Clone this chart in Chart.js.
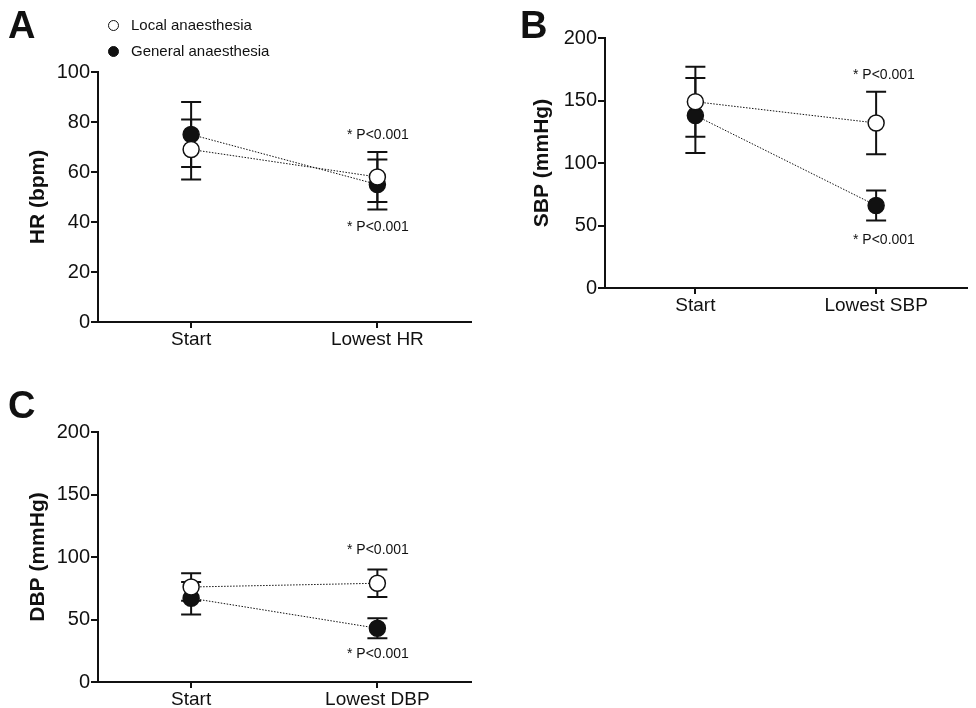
<!DOCTYPE html>
<html>
<head>
<meta charset="utf-8">
<script src="https://cdn.jsdelivr.net/npm/chart.js@4"></script>
<style>
  body { margin: 0; background: #fff; font-family: "Liberation Sans", Arial, sans-serif; }
  #wrap { position: relative; width: 976px; height: 708px; overflow: hidden; }
  canvas { position: absolute; }
  .t { position: absolute; color: #111; white-space: nowrap; }
  .letter { font-weight: bold; font-size: 38px; }
  .p { font-size: 14px; }
  .leg { font-size: 15px; }
  .dot { position: absolute; width: 11px; height: 11px; border-radius: 50%; border: 1.5px solid #111; box-sizing: border-box; }
</style>
</head>
<body>
<div id="wrap">
  <canvas id="cA" style="left:0;top:0"></canvas>
  <canvas id="cB" style="left:500px;top:0"></canvas>
  <canvas id="cC" style="left:0;top:380px"></canvas>

  <div class="t letter" style="left:8px;top:4px">A</div>
  <div class="t letter" style="left:520px;top:4px">B</div>
  <div class="t letter" style="left:8px;top:384px">C</div>

  <div class="dot" style="left:108px;top:20px;background:#fff"></div>
  <div class="t leg" style="left:131px;top:16px">Local anaesthesia</div>
  <div class="dot" style="left:108px;top:46px;background:#111"></div>
  <div class="t leg" style="left:131px;top:42px">General anaesthesia</div>

  <div class="t p" style="left:347px;top:126px">* P&lt;0.001</div>
  <div class="t p" style="left:347px;top:218px">* P&lt;0.001</div>
  <div class="t p" style="left:853px;top:66px">* P&lt;0.001</div>
  <div class="t p" style="left:853px;top:231px">* P&lt;0.001</div>
  <div class="t p" style="left:347px;top:541px">* P&lt;0.001</div>
  <div class="t p" style="left:347px;top:645px">* P&lt;0.001</div>
</div>
<script>
// values (mean, lower and upper error bar ends)
const hrLabels = ["Start", "Lowest HR"];
const hrLocal = [69, 58];
const hrLocalLo = [57, 48];
const hrLocalHi = [81, 68];
const hrGeneral = [75, 55];
const hrGeneralLo = [62, 45];
const hrGeneralHi = [88, 65];

const sbpLabels = ["Start", "Lowest SBP"];
const sbpLocal = [149, 132];
const sbpLocalLo = [121, 107];
const sbpLocalHi = [177, 157];
const sbpGeneral = [138, 66];
const sbpGeneralLo = [108, 54];
const sbpGeneralHi = [168, 78];

const dbpLabels = ["Start", "Lowest DBP"];
const dbpLocal = [76, 79];
const dbpLocalLo = [65, 68];
const dbpLocalHi = [87, 90];
const dbpGeneral = [67, 43];
const dbpGeneralLo = [54, 35];
const dbpGeneralHi = [80, 51];

const ink = "#111";
const tickFont = { family: "Liberation Sans, Arial", size: 19 };

const errorBars = {
  id: "errorBars",
  beforeDatasetsDraw(chart) {
    const c = chart.ctx;
    const y = chart.scales.y;
    c.save();
    c.strokeStyle = ink;
    c.lineWidth = 2;
    chart.data.datasets.forEach((ds, i) => {
      const meta = chart.getDatasetMeta(i);
      meta.data.forEach((pt, j) => {
        const top = y.getPixelForValue(ds.hi[j]);
        const bot = y.getPixelForValue(ds.lo[j]);
        c.beginPath();
        c.moveTo(pt.x, top); c.lineTo(pt.x, bot);
        c.moveTo(pt.x - 10, top); c.lineTo(pt.x + 10, top);
        c.moveTo(pt.x - 10, bot); c.lineTo(pt.x + 10, bot);
        c.stroke();
      });
    });
    c.restore();
  }
};

function series(data, lo, hi, fill) {
  return {
    data, lo, hi,
    borderColor: ink, borderWidth: 1, borderDash: [1.5, 1.5],
    pointRadius: 8, pointHoverRadius: 8, pointBorderWidth: 1.5,
    pointBackgroundColor: fill, pointBorderColor: ink
  };
}

function makeChart(id, w, h, labels, sets, yMax, yStep, title, pad, yW, xH) {
  const cv = document.getElementById(id);
  cv.width = w; cv.height = h;
  cv.style.width = w + "px"; cv.style.height = h + "px";
  new Chart(cv, {
    type: "line",
    data: { labels, datasets: sets },
    plugins: [errorBars],
    options: {
      responsive: false, animation: false,
      layout: { padding: pad },
      plugins: { legend: { display: false }, tooltip: { enabled: false } },
      scales: {
        x: {
          offset: true,
          grid: { display: true, drawOnChartArea: false, tickLength: 6, color: ink, lineWidth: 2, offset: false },
          border: { color: ink, width: 2 },
          ticks: { color: ink, font: tickFont, padding: 0 },
          afterFit(s) { s.height = xH; }
        },
        y: {
          min: 0, max: yMax,
          grid: { display: true, drawOnChartArea: false, tickLength: 7, color: ink, lineWidth: 2 },
          border: { color: ink, width: 2 },
          ticks: { stepSize: yStep, color: ink, font: { family: "Liberation Sans, Arial", size: 20 }, padding: 1 },
          title: { display: true, text: title, color: ink, font: { family: "Liberation Sans, Arial", size: 21, weight: "bold" }, padding: 2 },
          afterFit(s) { s.width = yW; }
        }
      }
    }
  });
}

makeChart("cA", 480, 360, hrLabels, [
  series(hrLocal, hrLocalLo, hrLocalHi, "#fff"),
  series(hrGeneral, hrGeneralLo, hrGeneralHi, ink)
], 100, 20, "HR (bpm)", { top: 72, right: 6, left: 24, bottom: 0 }, 74, 38);

makeChart("cB", 476, 340, sbpLabels, [
  series(sbpLocal, sbpLocalLo, sbpLocalHi, "#fff"),
  series(sbpGeneral, sbpGeneralLo, sbpGeneralHi, ink)
], 200, 50, "SBP (mmHg)", { top: 38, right: 0, left: 28, bottom: 0 }, 77, 52);

makeChart("cC", 480, 340, dbpLabels, [
  series(dbpLocal, dbpLocalLo, dbpLocalHi, "#fff"),
  series(dbpGeneral, dbpGeneralLo, dbpGeneralHi, ink)
], 200, 50, "DBP (mmHg)", { top: 52, right: 6, left: 24, bottom: 0 }, 74, 38);
</script>
</body>
</html>
